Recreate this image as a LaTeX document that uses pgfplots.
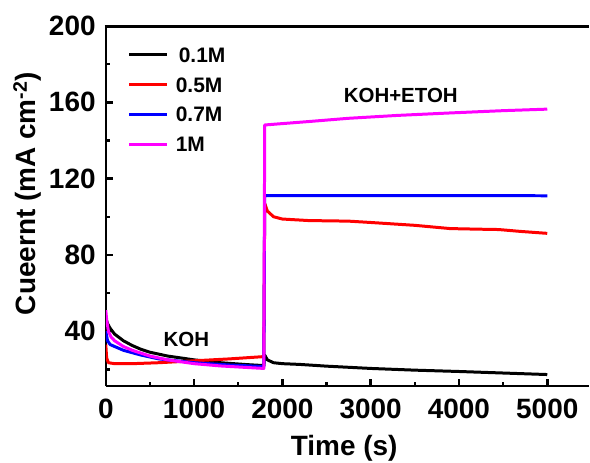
\documentclass[border=0pt]{standalone}
\usepackage{fontspec}
\setmainfont{Liberation Sans}
\usepackage{pgfplots}
\pgfplotsset{compat=1.18}
\definecolor{cmag}{RGB}{255,0,255}
\definecolor{cblue}{RGB}{0,0,255}
\definecolor{cred}{RGB}{255,0,0}
\begin{document}
\begin{tikzpicture}
\begin{axis}[
  at={(0,0)}, anchor=south west,
  scale only axis, width=484pt, height=361pt,
  xmin=0, xmax=5470, ymin=11.2, ymax=200,
  axis lines*=left,
  axis line style={line width=2.5pt},
  xtick={0,1000,2000,3000,4000,5000},
  ytick={40,80,120,160,200},
  minor xtick={500,1500,2500,3500,4500},
  minor ytick={20,60,100,140,180},
  extra y ticks={199.4},
  extra y tick labels={},
  extra y tick style={grid=major, major grid style={line width=2.5pt, black}, major tick length=0pt},
  tick align=inside,
  major tick length=7pt, minor tick length=4pt,
  every tick/.style={line width=2.5pt, black},
  scaled ticks=false,
  /pgf/number format/1000 sep={},
  /pgf/number format/assume math mode=true,
  ticklabel style={font=\fontsize{28}{30}\selectfont\bfseries, inner sep=0pt},
  yticklabel shift=10pt,
  xticklabel shift=13pt,
  xlabel={Time (s)},
  ylabel={Cueernt (mA cm\textsuperscript{-2})},
  xlabel style={font=\fontsize{28}{30}\selectfont\bfseries, at={(axis cs:2700,11.2)}, anchor=base, yshift=-69.7pt, inner sep=0pt},
  ylabel style={font=\fontsize{28}{30}\selectfont\bfseries, at={(axis description cs:0,0.5346)}, anchor=base, yshift=70pt, inner sep=0pt},
  legend style={at={(rel axis cs:0,1)}, anchor=north west, xshift=22pt, yshift=-21pt,
    draw=none, fill=none, font=\fontsize{21}{24}\selectfont\bfseries,
    row sep=15pt, column sep=7pt, inner sep=0pt,
    nodes={inner sep=0pt, text height=15pt, text depth=0pt}},
  legend cell align=left,
  legend image code/.code={\draw[#1] (0pt,0pt) -- (38pt,0pt);},
  every axis plot/.append style={line width=3pt, line join=round},
]
\addplot[black] coordinates {
(0,47) (20,44) (50,41.5) (100,38.5) (200,35) (300,32.5) (400,30.5) (500,29)
(700,27) (1000,25) (1300,23.5) (1600,22.5) (1790,22) (1800,27.5) (1830,25)
(1900,23.5) (2000,23) (2200,22.6) (2500,21.7) (3000,20.5) (3500,19.6)
(4000,18.9) (4500,18.1) (5000,17.3)};
\addlegendentry{\hspace{3pt}0.1M}
\addplot[cred] coordinates {
(0,33) (10,26) (30,23.5) (100,23) (300,23) (600,23.5) (1000,24.5) (1400,25.5)
(1790,26.7) (1800,107) (1830,103) (1900,100) (2000,98.8) (2300,98) (2750,97.7)
(3000,97) (3500,95.5) (3900,93.8) (4200,93.5) (4450,93.3) (4700,92.3) (5000,91.3)};
\addlegendentry{0.5M}
\addplot[cblue] coordinates {
(0,40) (20,35) (50,33) (100,32) (200,30) (400,27.5) (600,25.5) (1000,23.5)
(1400,22.3) (1790,21.5) (1800,111.1) (3000,111.1) (5000,111)};
\addlegendentry{0.7M}
\addplot[cmag] coordinates {
(0,51) (10,46) (30,40) (60,37) (100,35) (200,32) (300,30) (500,27) (700,25)
(1000,23) (1300,21.8) (1600,21) (1790,20.5) (1800,148.1) (2300,149.9)
(2750,151.6) (3300,153.1) (3900,154.4) (4500,155.6) (5000,156.4)};
\addlegendentry{1M}
\node[font=\fontsize{20.5}{24}\selectfont\bfseries] at (axis cs:912,35.8) {KOH};
\node[font=\fontsize{20.5}{24}\selectfont\bfseries] at (axis cs:3341,163.4) {KOH+ETOH};
\end{axis}
\draw[line width=2.5pt, black] (-1.25pt,361pt) -- (484pt,361pt);
\path (-106pt,-76pt) rectangle (484pt,387pt);
\end{tikzpicture}
\end{document}
